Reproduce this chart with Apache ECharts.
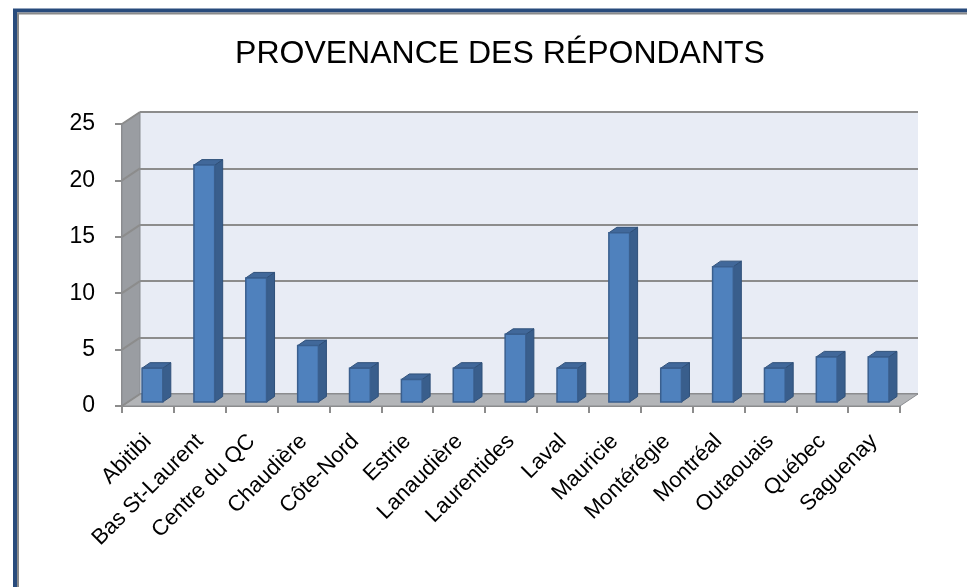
<!DOCTYPE html>
<html lang="fr">
<head>
    <title>Provenance des répondants</title>
    <meta charset="UTF-8">
    <script src="https://cdn.jsdelivr.net/npm/echarts@6/dist/echarts.min.js"></script>
    <style>
        html, body { margin: 0; padding: 0; background: #fff; }
    </style>
</head>
<body>
    <div id="main" style="width: 967px;height:587px;"></div>
    <script>
        // données du graphique
        var regions = ["Abitibi", "Bas St-Laurent", "Centre du QC", "Chaudière", "Côte-Nord", "Estrie", "Lanaudière",
            "Laurentides", "Laval", "Mauricie", "Montérégie", "Montréal", "Outaouais", "Québec", "Saguenay"];
        var repondants = [3, 21, 11, 5, 3, 2, 3, 6, 3, 15, 3, 12, 3, 4, 4];
        var yTicks = [0, 5, 10, 15, 20, 25];

        var DX = 18, DY = 12;   // profondeur du mur du fond
        var FONT = '"Liberation Sans", Arial, sans-serif';

        var myChart = echarts.init(document.getElementById('main'));

        // murs (gauche + plancher) et lignes diagonales du mur gauche
        function renderWalls(params, api) {
            var v = api.value(1);
            var n = regions.length;
            var p0 = api.coord([0, v]);
            var bw = api.size([1, 0])[0];
            var xl = p0[0] - bw / 2;
            var children = [];
            if (params.dataIndex === 0) {
                var top = api.coord([0, yTicks[yTicks.length - 1]])[1];
                var bot = api.coord([0, 0])[1];
                var xr = xl + bw * n;
                children.push({
                    type: 'polygon',
                    shape: { points: [[xl, top], [xl + DX, top - DY], [xl + DX, bot - DY], [xl, bot]] },
                    style: { fill: '#9a9da2', stroke: '#8a8d92', lineWidth: 1 }
                });
                children.push({
                    type: 'polygon',
                    shape: { points: [[xl, bot], [xl + DX, bot - DY], [xr + DX, bot - DY], [xr, bot]] },
                    style: { fill: '#b3b5b8', stroke: '#8a8c90', lineWidth: 1 }
                });
            }
            children.push({
                type: 'line',
                shape: { x1: xl, y1: p0[1], x2: xl + DX, y2: p0[1] - DY },
                style: { stroke: '#8c8c8c', lineWidth: 2 }
            });
            return { type: 'group', children: children };
        }

        // barres 3D
        function renderBar(params, api) {
            var c = api.coord([api.value(0), api.value(1)]);
            var b = api.coord([api.value(0), 0]);
            var bw = api.size([1, 0])[0];
            var w = bw * 0.4;
            var fx = c[0] - w / 2 + 4.5;
            var top = c[1] - 4, bot = b[1] - 4;
            var dx = 8, dy = 5.5;
            return {
                type: 'group',
                children: [
                    {
                        type: 'polygon',
                        shape: { points: [[fx + w, top], [fx + w + dx, top - dy], [fx + w + dx, bot - dy], [fx + w, bot]] },
                        style: { fill: '#395e8c', stroke: '#2f5079', lineWidth: 1 }
                    },
                    {
                        type: 'polygon',
                        shape: { points: [[fx, top], [fx + dx, top - dy], [fx + w + dx, top - dy], [fx + w, top]] },
                        style: { fill: '#41689a', stroke: '#2f5079', lineWidth: 1 }
                    },
                    {
                        type: 'rect',
                        shape: { x: fx, y: top, width: w, height: bot - top },
                        style: { fill: '#4f81bd', stroke: '#3a5f8e', lineWidth: 1.5 }
                    }
                ]
            };
        }

        var option = {
            animation: false,
            title: {
                text: 'PROVENANCE DES RÉPONDANTS',
                left: 495,
                textAlign: 'center',
                top: 33,
                textStyle: { fontFamily: FONT, fontSize: 32, fontWeight: 'normal', color: '#000' }
            },
            graphic: [
                { type: 'rect', shape: { x: 15, y: 10.5, width: 1000, height: 700 }, style: { fill: null, stroke: '#284b7c', lineWidth: 4 }, z: 100 },
                { type: 'rect', shape: { x: 18, y: 13.5, width: 1000, height: 700 }, style: { fill: null, stroke: '#8a8a8a', lineWidth: 2 }, z: 100 }
            ],
            grid: [
                // mur du fond
                { left: 122 + DX, right: 67 - DX, top: 124 - DY, bottom: 181 + DY, show: true, backgroundColor: '#e8ecf5', borderWidth: 0 },
                // axes avant
                { left: 122, right: 67, top: 124, bottom: 181 }
            ],
            xAxis: [
                { gridIndex: 0, type: 'category', data: regions, show: false },
                {
                    gridIndex: 1, type: 'category', data: regions,
                    axisLine: { show: true, lineStyle: { color: '#8c8c8c', width: 2 } },
                    axisTick: { show: true, length: 7, lineStyle: { color: '#8c8c8c', width: 2 } },
                    axisLabel: { rotate: 45, margin: 32, fontSize: 22, color: '#000', fontFamily: FONT, interval: 0 }
                }
            ],
            yAxis: [
                {
                    gridIndex: 0, type: 'value', min: 0, max: 25, interval: 5,
                    axisLine: { show: false }, axisTick: { show: false }, axisLabel: { show: false },
                    splitLine: { show: true, lineStyle: { color: '#8c8c8c', width: 2 } }
                },
                {
                    gridIndex: 1, type: 'value', min: 0, max: 25, interval: 5,
                    axisLine: { show: true, lineStyle: { color: '#8c8c8c', width: 2 } },
                    axisTick: { show: true, length: 7, lineStyle: { color: '#8c8c8c', width: 2 } },
                    axisLabel: { margin: 27, fontSize: 23, color: '#000', fontFamily: FONT },
                    splitLine: { show: false }
                }
            ],
            series: [
                {
                    name: 'murs',
                    type: 'custom',
                    xAxisIndex: 1, yAxisIndex: 1,
                    z: 1,
                    silent: true,
                    data: yTicks.map(function (v) { return [0, v]; }),
                    renderItem: renderWalls
                },
                {
                    name: 'Répondants',
                    type: 'custom',
                    xAxisIndex: 1, yAxisIndex: 1,
                    z: 5,
                    data: repondants.map(function (v, i) { return [i, v]; }),
                    encode: { x: 0, y: 1 },
                    renderItem: renderBar
                }
            ]
        };
        myChart.setOption(option);
    </script>
</body>
</html>
